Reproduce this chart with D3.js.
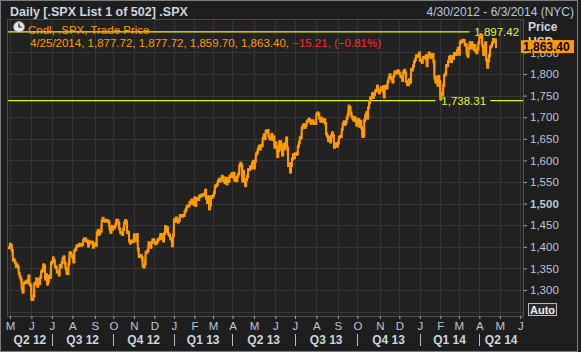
<!DOCTYPE html>
<html>
<head>
<meta charset="utf-8">
<script src="https://cdnjs.cloudflare.com/ajax/libs/d3/7.8.5/d3.min.js"></script>
<style>
  body { margin: 0; background: #1e1e1e; }
  svg { display: block; font-family: "Liberation Sans", Arial, sans-serif; }
</style>
</head>
<body>
<div id="chart"></div>
<script>

// daily closes, .SPX
var closes2012 = [
    1397.91,
    1405.82, 1402.31, 1391.57, 1369.10, 1369.58, 1363.72, 1354.58, 1357.99, 1353.39, 1338.35, 1330.66,
    1324.80, 1304.86, 1295.22, 1315.99, 1316.63, 1318.86, 1320.68, 1317.82, 1332.42, 1313.32, 1310.33,
    1278.04, 1278.18, 1285.50, 1315.13, 1314.99, 1325.66, 1308.93, 1324.18, 1314.88, 1329.10, 1342.84,
    1344.78, 1357.98, 1355.69, 1325.51, 1335.02, 1313.72, 1319.99, 1331.85, 1329.04, 1362.16,
    1365.51, 1374.02, 1367.58, 1354.68, 1352.46, 1341.47, 1341.45, 1334.76, 1356.78, 1353.64, 1363.67,
    1372.78, 1376.51, 1362.66, 1350.52, 1338.31, 1337.89, 1360.02, 1385.97, 1385.30, 1379.32,
    1375.32, 1365.00, 1390.99, 1394.23, 1401.35, 1402.22, 1402.80, 1405.87, 1404.11, 1403.93, 1405.53,
    1415.51, 1418.16, 1418.13, 1413.17, 1413.49, 1402.08, 1411.13, 1410.44, 1409.30, 1410.49, 1399.48, 1406.58,
    1404.94, 1403.44, 1432.12, 1437.92, 1429.08, 1433.56, 1436.56, 1459.99, 1465.77, 1461.19, 1459.32,
    1461.05, 1460.26, 1460.15, 1456.89, 1441.59, 1433.32, 1447.15, 1440.67,
    1444.49, 1445.75, 1450.99, 1461.40, 1460.93, 1455.88, 1441.48, 1432.56, 1432.84, 1428.59, 1440.13,
    1454.92, 1460.91, 1457.34, 1433.19, 1433.82, 1413.11, 1408.75, 1412.97, 1411.94, 1412.16,
    1427.59, 1414.20, 1417.26, 1428.39, 1394.53, 1377.51, 1379.85, 1380.03, 1374.53, 1355.49, 1353.33,
    1359.88, 1386.89, 1387.81, 1391.03, 1409.15, 1406.29, 1398.94, 1409.93, 1415.95, 1416.18,
    1409.46, 1407.05, 1409.28, 1413.94, 1418.07, 1418.55, 1427.84, 1428.48, 1419.45, 1413.58, 1430.36,
    1446.79, 1435.81, 1443.69, 1430.15, 1426.66, 1419.83, 1418.10, 1402.43, 1426.19
];

var closes2013 = [
    1462.42, 1459.37, 1466.47, 1461.89, 1457.15, 1461.02, 1472.12, 1472.05, 1470.68, 1472.34, 1472.63,
    1480.94, 1485.98, 1492.56, 1494.81, 1494.82, 1502.96, 1500.18, 1507.84, 1501.96, 1498.11,
    1513.17, 1495.71, 1511.29, 1512.12, 1509.39, 1517.93, 1517.01, 1519.43, 1520.33, 1521.38, 1519.79,
    1530.94, 1511.95, 1502.42, 1515.60, 1487.85, 1496.94, 1515.99, 1514.68,
    1518.20, 1525.20, 1539.79, 1541.46, 1544.26, 1551.18, 1556.22, 1552.48, 1554.52, 1563.23, 1560.70,
    1552.10, 1548.34, 1558.71, 1545.80, 1556.89, 1551.69, 1563.77, 1562.85, 1569.19,
    1562.17, 1570.25, 1553.69, 1559.98, 1553.28, 1563.07, 1568.61, 1587.73, 1593.37, 1588.85, 1552.36,
    1574.57, 1552.01, 1541.61, 1555.25, 1562.50, 1578.78, 1578.79, 1585.16, 1582.24, 1593.61, 1597.57,
    1582.70, 1597.59, 1614.42, 1617.50, 1625.96, 1632.69, 1626.67, 1633.70, 1633.77, 1650.34, 1658.78,
    1650.47, 1667.47, 1666.29, 1669.16, 1655.35, 1650.51, 1649.60, 1660.06, 1648.36, 1654.41, 1630.74,
    1640.42, 1631.38, 1608.90, 1622.56, 1643.38, 1642.81, 1626.13, 1612.52, 1636.36, 1626.73, 1639.04,
    1651.81, 1628.93, 1588.19, 1592.43, 1573.09, 1588.03, 1603.26, 1613.20, 1606.28,
    1614.96, 1614.08, 1615.41, 1631.89, 1640.46, 1652.32, 1652.62, 1675.02, 1680.19, 1682.50, 1676.26,
    1680.91, 1689.37, 1692.09, 1695.53, 1692.39, 1685.94, 1690.25, 1691.65, 1685.33, 1685.96, 1685.73,
    1706.87, 1709.67, 1707.14, 1697.37, 1690.91, 1697.48, 1691.42, 1689.47, 1694.16, 1685.39, 1661.32,
    1655.83, 1646.06, 1652.35, 1642.80, 1656.96, 1663.50, 1656.78, 1630.48, 1634.96, 1638.17, 1632.97,
    1639.77, 1653.08, 1655.08, 1655.17, 1671.71, 1683.99, 1689.13, 1683.42, 1687.99, 1697.60, 1704.76,
    1725.52, 1722.34, 1709.91, 1701.84, 1697.42, 1692.77, 1698.67, 1691.75, 1681.55,
    1695.00, 1693.87, 1678.66, 1690.50, 1676.12, 1655.45, 1656.40, 1692.56, 1703.20, 1710.14, 1698.06,
    1721.54, 1733.15, 1744.50, 1744.66, 1754.67, 1746.38, 1752.07, 1759.77, 1762.11, 1771.95, 1763.31, 1756.54,
    1761.64, 1767.93, 1762.97, 1770.49, 1747.15, 1770.61, 1771.89, 1767.69, 1782.00, 1790.62, 1798.18,
    1791.53, 1787.87, 1781.37, 1795.85, 1804.76, 1802.48, 1802.75, 1807.23, 1805.81,
    1800.90, 1795.15, 1792.81, 1785.03, 1805.09, 1808.37, 1802.62, 1782.22, 1775.50, 1775.32, 1786.54,
    1781.00, 1810.65, 1809.60, 1818.32, 1827.99, 1833.32, 1842.02, 1841.40, 1841.07, 1848.36
];

var closes2014 = [
    1831.98, 1831.37, 1826.77, 1837.88, 1837.49, 1838.13, 1842.37, 1819.20, 1838.88, 1848.38, 1845.89,
    1838.70, 1843.80, 1844.86, 1828.46, 1790.29, 1781.56, 1792.50, 1774.20, 1794.19, 1782.59,
    1741.89, 1755.20, 1751.64, 1773.43, 1797.02, 1799.84, 1819.75, 1819.26, 1829.83, 1838.63, 1840.76,
    1828.75, 1839.78, 1836.25, 1847.61, 1845.12, 1845.16, 1854.29, 1859.45,
    1845.73, 1873.91, 1873.81, 1877.03, 1878.04, 1877.17, 1867.63, 1868.20, 1846.34, 1841.13, 1858.83,
    1872.25, 1860.77, 1872.01, 1866.52, 1857.44, 1865.62, 1852.56, 1849.04, 1857.62, 1872.34,
    1885.52, 1890.90, 1888.77, 1865.09, 1845.04, 1851.96, 1872.18, 1833.08, 1815.69, 1830.61, 1842.98,
    1862.31, 1864.85, 1871.89, 1879.55, 1875.39, 1878.61, 1863.40
];

// trading days in each month on the axis (Apr 2012 stub ... Jun 2014 stub)
var monthLabels = ["A", "M", "J", "J", "A", "S", "O", "N", "D",
    "J", "F", "M", "A", "M", "J", "J", "A", "S", "O", "N", "D",
    "J", "F", "M", "A", "M", "J"];
var monthDays = [1, 22, 21, 21, 23, 19, 21, 21, 20,
    21, 19, 20, 22, 22, 20, 22, 22, 20, 23, 20, 21,
    21, 19, 21, 21, 21, 2];

var quarterLabels = ["Q2 12", "Q3 12", "Q4 12", "Q1 13", "Q2 13", "Q3 13", "Q4 13", "Q1 14", "Q2 14"];
var quarterStartMonth = [0, 3, 6, 9, 12, 15, 18, 21, 24];

var priceTicks = [1300, 1350, 1400, 1450, 1500, 1550, 1600, 1650, 1700, 1750, 1800, 1850];
var gridPrices = [1250, 1300, 1350, 1400, 1450, 1500, 1550, 1600, 1650, 1700, 1750, 1800, 1850, 1900];

var highValue = 1897.42, lowValue = 1738.31;
var lastBar = ["4/25/2014", 1877.72, 1877.72, 1859.70, 1863.40];
var lastChange = -15.21, lastChangePct = -0.81;

var closes = closes2012.concat(closes2013, closes2014);

var W = 581, H = 352;
var plot = { left: 8, right: 523, top: 20, bottom: 316 };
var orange = "#ff9a00", axisText = "#b9c7d8", headText = "#cdd5df";

var svg = d3.select("#chart").append("svg")
    .attr("width", W)
    .attr("height", H);

svg.append("rect").attr("width", W).attr("height", H).attr("fill", "#1e1e1e");
svg.append("rect").attr("x", 0.5).attr("y", 0.5).attr("width", 577).attr("height", H - 1)
    .attr("fill", "none").attr("stroke", "#7c7c7c");

// plot background
svg.append("rect")
    .attr("x", plot.left).attr("y", plot.top)
    .attr("width", plot.right - plot.left).attr("height", plot.bottom - plot.top)
    .attr("fill", "#222222");

var totalDays = d3.sum(monthDays);
var x = d3.scaleLinear().domain([-1, totalDays + 0.7]).range([plot.left, plot.right]);
var y = d3.scaleLinear().domain([1239.8, 1925]).range([plot.bottom, plot.top]);

// month start positions
var monthStart = [];
var acc = 0;
monthDays.forEach(function (d) { monthStart.push(acc); acc += d; });

// grid
var grid = svg.append("g");
grid.selectAll(".hg").data(gridPrices).enter().append("line")
    .attr("x1", plot.left).attr("x2", plot.right)
    .attr("y1", function (d) { return Math.round(y(d)) + 0.5; })
    .attr("y2", function (d) { return Math.round(y(d)) + 0.5; })
    .attr("stroke", "#363636");
grid.selectAll(".vg").data(monthStart.slice(1)).enter().append("line")
    .attr("x1", function (d) { return Math.round(x(d)) + 0.5; })
    .attr("x2", function (d) { return Math.round(x(d)) + 0.5; })
    .attr("y1", plot.top).attr("y2", plot.bottom)
    .attr("stroke", "#363636");

// plot frame
svg.append("rect")
    .attr("x", plot.left - 0.5).attr("y", plot.top - 0.5)
    .attr("width", plot.right - plot.left + 1).attr("height", plot.bottom - plot.top + 1)
    .attr("fill", "none").attr("stroke", "#4a4a4a");

// high / low lines
var hiIdx = d3.maxIndex(closes);
var loIdx = closes2012.length + closes2013.length + d3.minIndex(closes2014);
svg.append("line")
    .attr("x1", plot.left).attr("x2", x(hiIdx) - 11)
    .attr("y1", y(highValue)).attr("y2", y(highValue))
    .attr("stroke", "#f2f200").attr("stroke-width", 1.3);
svg.append("text")
    .attr("x", x(hiIdx) - 6).attr("y", y(highValue) + 4)
    .attr("fill", "#e4f53a").style("font-size", "11.5px")
    .text(d3.format(",.2f")(highValue));

svg.append("line")
    .attr("x1", plot.left).attr("x2", x(loIdx) - 5)
    .attr("y1", y(lowValue)).attr("y2", y(lowValue))
    .attr("stroke", "#f2f200").attr("stroke-width", 1.3);
svg.append("line")
    .attr("x1", x(loIdx) + 50).attr("x2", plot.right)
    .attr("y1", y(lowValue)).attr("y2", y(lowValue))
    .attr("stroke", "#f2f200").attr("stroke-width", 1.3);
svg.append("text")
    .attr("x", x(loIdx) + 1).attr("y", y(lowValue) + 4)
    .attr("fill", "#e4f53a").style("font-size", "11.5px")
    .text(d3.format(",.2f")(lowValue));

// candles: open = previous close
var bars = svg.append("g");
bars.append("path")
    .datum(closes)
    .attr("fill", "none")
    .attr("stroke", orange)
    .attr("stroke-width", 1.2)
    .attr("d", d3.line().x(function (d, i) { return x(i); }).y(function (d) { return y(d); }));
bars.selectAll(".bar")
    .data(closes)
    .enter().append("rect")
    .attr("class", "bar")
    .attr("x", function (d, i) { return x(i) - 1; })
    .attr("width", 2)
    .attr("y", function (d, i) {
        var o = i > 0 ? closes[i - 1] : d;
        return Math.min(y(o), y(d)) - 1.5;
    })
    .attr("height", function (d, i) {
        var o = i > 0 ? closes[i - 1] : d;
        return Math.abs(y(o) - y(d)) + 3;
    })
    .attr("fill", orange);

// header
svg.append("text")
    .attr("x", 10).attr("y", 16)
    .attr("fill", headText).style("font-size", "12.5px").style("font-weight", "bold")
    .text("Daily [.SPX List 1 of 502] .SPX");
svg.append("text")
    .attr("x", 574).attr("y", 16).attr("text-anchor", "end")
    .attr("fill", axisText).style("font-size", "12px")
    .text("4/30/2012 - 6/3/2014 (NYC)");

// legend
var clock = svg.append("g").attr("transform", "translate(19,27)");
clock.append("circle").attr("r", 5.5).attr("fill", "#e6e6e6").attr("stroke", "#8a8a8a");
clock.append("path").attr("d", "M0,-3.5V0H3").attr("stroke", "#222").attr("fill", "none").attr("stroke-width", 1.2);

svg.append("text")
    .attr("x", 28).attr("y", 34)
    .attr("fill", orange).style("font-size", "11.5px")
    .text("Cndl, .SPX, Trade Price");

var leg = svg.append("text")
    .attr("x", 30).attr("y", 47)
    .style("font-size", "11.5px");
leg.append("tspan").attr("fill", orange)
    .text(lastBar[0] + ", " + lastBar.slice(1).map(d3.format(",.2f")).join(", ") + ", ");
leg.append("tspan").attr("fill", "#ff2a2a")
    .text(d3.format(".2f")(lastChange) + ", (" + d3.format(".2f")(lastChangePct) + "%)");

// right axis
var yAxis = d3.axisRight(y).tickValues(priceTicks).tickSize(4).tickPadding(3)
    .tickFormat(d3.format(","));
var ya = svg.append("g")
    .attr("transform", "translate(" + plot.right + ",0)")
    .call(yAxis);
ya.select(".domain").remove();
ya.selectAll("line").attr("stroke", "#aaa");
ya.selectAll("text")
    .attr("fill", axisText)
    .style("font-size", "11.5px")
    .style("font-family", "Liberation Sans, Arial, sans-serif")
    .style("font-weight", function (d) { return d == 1500 ? "bold" : "normal"; });
svg.append("line")
    .attr("x1", plot.right + 0.5).attr("x2", plot.right + 0.5)
    .attr("y1", plot.top).attr("y2", plot.bottom)
    .attr("stroke", "#555");

svg.append("text")
    .attr("x", 528).attr("y", 31)
    .attr("fill", headText).style("font-size", "12px").style("font-weight", "bold")
    .text("Price");
svg.append("text")
    .attr("x", 528).attr("y", 46)
    .attr("fill", headText).style("font-size", "12px").style("font-weight", "bold")
    .text("USD");

// last price box
var lastClose = closes[closes.length - 1];
svg.append("rect")
    .attr("x", 521).attr("y", y(lastClose) - 6.5)
    .attr("width", 53).attr("height", 13)
    .attr("fill", orange);
svg.append("text")
    .attr("x", 523).attr("y", y(lastClose) + 4.5)
    .attr("fill", "#000").style("font-size", "12px").style("font-weight", "bold")
    .text(d3.format(",.2f")(lastClose));

// Auto button
svg.append("rect")
    .attr("x", 528.5).attr("y", 303.5).attr("width", 28).attr("height", 12)
    .attr("fill", "#2a2a2a").attr("stroke", "#bbb");
svg.append("text")
    .attr("x", 542.5).attr("y", 313.5).attr("text-anchor", "middle")
    .attr("fill", "#eee").style("font-size", "11px").style("font-weight", "bold")
    .text("Auto");

// bottom axis: months
var xAxis = d3.axisBottom(x)
    .tickValues(monthStart.slice(1))
    .tickSize(3).tickPadding(3)
    .tickFormat(function (d, i) { return monthLabels[i + 1]; });
var xa = svg.append("g")
    .attr("transform", "translate(0," + plot.bottom + ")")
    .call(xAxis);
xa.select(".domain").remove();
xa.selectAll("line").attr("stroke", "#aaa");
xa.selectAll("text")
    .attr("fill", axisText)
    .style("font-size", "11.5px")
    .style("font-family", "Liberation Sans, Arial, sans-serif");

// quarters
quarterLabels.forEach(function (q, i) {
    var x0 = i == 0 ? plot.left : x(monthStart[quarterStartMonth[i]]);
    var x1 = i == quarterLabels.length - 1 ? plot.right : x(monthStart[quarterStartMonth[i + 1]]);
    if (i > 0) {
        svg.append("line")
            .attr("x1", Math.round(x0) + 0.5).attr("x2", Math.round(x0) + 0.5)
            .attr("y1", 334).attr("y2", 346)
            .attr("stroke", "#bbb");
    }
    svg.append("text")
        .attr("x", (x0 + x1) / 2).attr("y", 344).attr("text-anchor", "middle")
        .attr("fill", headText).style("font-size", "12px").style("font-weight", "bold")
        .text(q);
});

</script>
</body>
</html>
